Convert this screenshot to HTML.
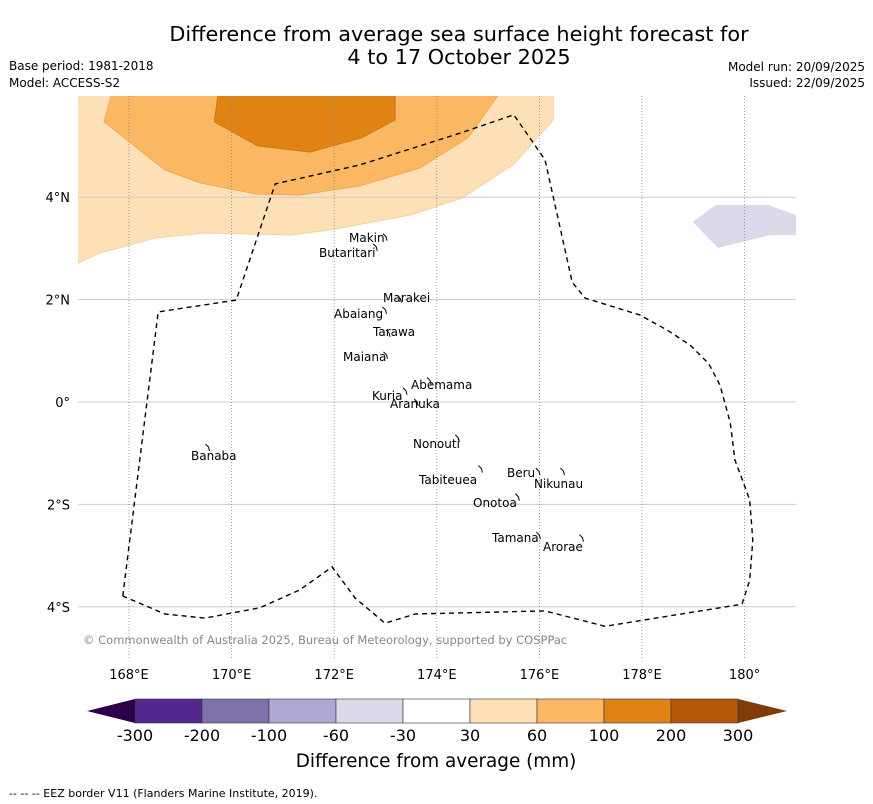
<!DOCTYPE html>
<html><head><meta charset="utf-8"><style>
body{margin:0;background:#fff;width:873px;height:804px;overflow:hidden;font-family:"DejaVu Sans","Liberation Sans",sans-serif}
svg{position:absolute;left:0;top:0}
</style></head><body>
<svg id="chart" width="873" height="804" font-family="DejaVu Sans, Liberation Sans, sans-serif">
<text x="459" y="41" text-anchor="middle" font-size="20.8">Difference from average sea surface height forecast for</text>
<text x="459" y="64" text-anchor="middle" font-size="20.8">4 to 17 October 2025</text>
<text x="9" y="70" font-size="12">Base period: 1981-2018</text>
<text x="9" y="87" font-size="12">Model: ACCESS-S2</text>
<text x="865" y="71" font-size="12" text-anchor="end">Model run: 20/09/2025</text>
<text x="865" y="87" font-size="12" text-anchor="end">Issued: 22/09/2025</text>
<g id="map"></g>
<g id="cbar"></g>
<text x="436" y="767" text-anchor="middle" font-size="18.4">Difference from average (mm)</text>
<text x="9" y="797" font-size="11">--  --  -- EEZ border V11 (Flanders Marine Institute, 2019).</text>
</svg>
<script>
const lonTicks=[168,170,172,174,176,178,180];
const lonLabels=["168°E","170°E","172°E","174°E","176°E","178°E","180°"];
const latTicks=[4,2,0,-2,-4];
const latLabels=["4°N","2°N","0°","2°S","4°S"];
const c30lon=[167.0,176.27,176.27,175.49,174.49,173.48,171.92,171.14,169.48,168.51,167.43,167.0];
const c30lat=[5.98,5.98,5.51,4.63,3.98,3.65,3.36,3.26,3.30,3.20,2.91,2.71];
const c60lon=[167.65,175.19,174.61,173.67,172.50,171.33,170.48,169.38,168.70,167.51];
const c60lat=[5.98,5.98,5.16,4.57,4.22,4.04,4.06,4.28,4.53,5.47];
const c100lon=[169.73,173.19,173.19,172.54,171.53,170.51,169.66];
const c100lat=[5.98,5.98,5.51,5.16,4.88,5.00,5.47];
const cNegLon=[178.99,179.44,180.46,181.0,181.0,180.50,179.48];
const cNegLat=[3.52,3.85,3.85,3.65,3.26,3.26,3.01];
const eezLon=[167.88,168.57,170.09,170.85,172.50,174.45,175.50,176.11,176.64,176.89,177.96,178.5,178.94,179.3,179.52,179.72,179.81,180.10,180.16,180.10,179.95,177.28,176.11,173.58,172.99,172.41,171.96,171.33,170.55,169.48,168.70,167.88];
const eezLat=[-3.79,1.76,1.99,4.26,4.63,5.25,5.61,4.73,2.34,2.03,1.70,1.40,1.11,0.75,0.33,-0.4,-1.13,-1.91,-2.70,-3.48,-3.95,-4.38,-4.08,-4.14,-4.32,-3.83,-3.22,-3.67,-4.02,-4.22,-4.14,-3.79];
const islands=["Makin","Butaritari","Marakei","Abaiang","Tarawa","Maiana","Abemama","Kuria","Aranuka","Nonouti","Banaba","Beru","Nikunau","Tabiteuea","Onotoa","Tamana","Arorae"];
const islLon=[172.99,172.8,173.27,172.98,173.05,173.0,173.85,173.38,173.6,174.4,169.53,175.97,176.45,174.85,175.57,175.98,176.82];
const islLat=[3.23,3.03,2.02,1.8,1.35,0.92,0.42,0.22,0.0,-0.7,-0.88,-1.35,-1.35,-1.3,-1.85,-2.6,-2.65];
const islTx=[349,319,383,334,373,343,411,372,390,413,191,507,534,419,473,492,543];
const islTy=[242,257,302,318,336,361,389,400,408,448,460,477,488,484,507,542,551];
const cbLabels=["-300","-200","-100","-60","-30","30","60","100","200","300"];
const cbColors=["#54278f","#7f70aa","#b0a8d2","#d9d9ea","#ffffff","#fee0b6","#fbb761","#e08214","#b35806"];

const NS="http://www.w3.org/2000/svg";
const X0=78,X1=796,Y0=96,Y1=660;
function xs(lon){return 129+(lon-168)*51.3;}
function ys(lat){return 402-lat*51.2;}
const map=document.getElementById('map');
function mk(tag,attrs,parent){const e=document.createElementNS(NS,tag);for(const k in attrs)e.setAttribute(k,attrs[k]);(parent||map).appendChild(e);return e;}
const cp=mk('clipPath',{id:'clip'});mk('rect',{x:X0,y:Y0,width:X1-X0,height:Y1-Y0},cp);
function pts(lo,la){return lo.map((v,i)=>xs(v).toFixed(1)+','+ys(la[i]).toFixed(1)).join(' ');}
const g=mk('g',{'clip-path':'url(#clip)'});
let p;
p=mk('polygon',{points:pts(c30lon,c30lat),fill:'#fee0b6',stroke:'#f3c98f','stroke-width':0.7},g);


p=mk('polygon',{points:pts(c60lon,c60lat),fill:'#fbb761',stroke:'#e9a250','stroke-width':0.7},g);


p=mk('polygon',{points:pts(c100lon,c100lat),fill:'#e08214',stroke:'#c87010','stroke-width':0.7},g);


p=mk('polygon',{points:pts(cNegLon,cNegLat),fill:'#d9d9ea'},g);


latTicks.forEach((t,i)=>{
  const l=mk('line',{x1:X0,x2:X1,y1:ys(t),y2:ys(t),stroke:'#cccccc','stroke-width':1},g);
  
  
  const tx=mk('text',{x:70,y:ys(t)+5,'text-anchor':'end','font-size':13});
  tx.textContent=latLabels[i];
  
  
});
lonTicks.forEach((t,i)=>{
  const l=mk('line',{x1:xs(t),x2:xs(t),y1:Y0,y2:Y1,stroke:'#888','stroke-width':0.8,'stroke-dasharray':'1,2'},g);
  
  
  const tx=mk('text',{x:xs(t),y:679,'text-anchor':'middle','font-size':13});
  tx.textContent=lonLabels[i];
  
  
});
p=mk('polyline',{points:pts(eezLon,eezLat),fill:'none',stroke:'#000','stroke-width':1.4,'stroke-dasharray':'5,4'},g);


islands.forEach((n,i)=>{
  const m=mk('path',{d:`M${xs(islLon[i])-2},${ys(islLat[i])-3} l3,3 l1,4`,stroke:'#000','stroke-width':1,fill:'none'},g);
  
  
  const tx=mk('text',{x:islTx[i],y:islTy[i],'font-size':12});
  tx.textContent=n;
  
  
});
const cr=mk('text',{x:83,y:644,'font-size':11.5,fill:'#888'});
cr.textContent='© Commonwealth of Australia 2025, Bureau of Meteorology, supported by COSPPac';



const cb=document.getElementById('cbar');
const cx0=135,cx1=738,cy0=699,cy1=723,w=(cx1-cx0)/cbColors.length;
p=mk('polygon',{points:`${cx0},${cy0} ${cx0},${cy1} 87,711`,fill:'#2d004b'},cb);


p=mk('polygon',{points:`${cx1},${cy0} ${cx1},${cy1} 787,711`,fill:'#7f3b08'},cb);


cbColors.forEach((c,i)=>{
  const r=mk('rect',{x:cx0+i*w,y:cy0,width:w,height:cy1-cy0,fill:c,stroke:'#333','stroke-width':0.6},cb);
  
  
});
cbLabels.forEach((l,i)=>{
  const tx=mk('text',{x:cx0+i*w,y:741,'text-anchor':'middle','font-size':16},cb);
  tx.textContent=l;
  
  
});
</script>
</body></html>
